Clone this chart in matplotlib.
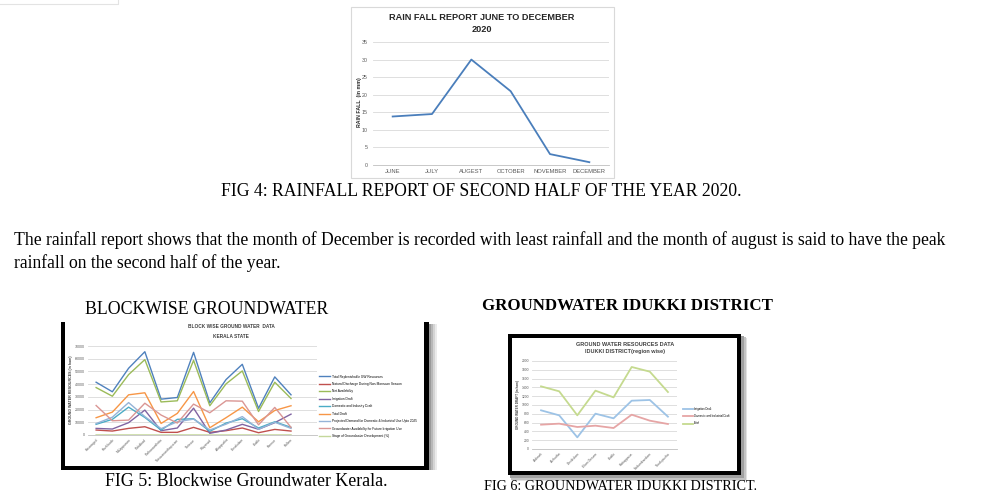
import numpy as np
import matplotlib
matplotlib.use('Agg')
import matplotlib.pyplot as plt
from matplotlib.patches import Rectangle
from matplotlib.lines import Line2D

W, H = 990, 501

# rainfall (fig 4)
months = ['JUNE', 'JULY', 'AUGEST', 'OCTOBER', 'NOVEMBER', 'DECEMBER']
rainfall = [13.8, 14.5, 30.0, 21.0, 3.1, 0.8]

# blockwise kerala (fig 5)
blocks = ['Kasaragod', 'Kozhikode', 'Malappuram', 'Palakkad', 'Pathanamthitta',
          'Thiruvananthapuram', 'Thrissur', 'Wayanad', 'Alappuzha', 'Ernakulam',
          'Idukki', 'Kannur', 'Kollam']
total_replenishable = [41500, 34000, 52500, 65500, 28200, 29500, 65000, 25300, 43600, 55600, 21000, 45700, 31600]
natural_discharge = [3900, 3100, 5200, 6500, 2100, 2100, 6000, 2100, 3400, 5500, 1800, 4400, 3100]
net_availability = [37300, 30500, 47500, 59300, 26000, 26900, 58700, 23000, 40200, 50400, 18500, 41500, 28700]
irrigation_draft = [5200, 4700, 9700, 19600, 3400, 5500, 21100, 1300, 3900, 8400, 4500, 9700, 16400]
domestic_draft = [8400, 12300, 21900, 13800, 3900, 12300, 12800, 2900, 9400, 12800, 5500, 10400, 6000]
total_draft = [13600, 18000, 31600, 33200, 9100, 17000, 34200, 5700, 13600, 21900, 10400, 19300, 23000]
projected_demand = [9000, 14000, 25500, 14500, 5000, 10400, 12500, 4000, 8500, 14500, 4500, 10000, 5200]
future_irrigation = [23200, 11200, 11700, 25000, 15700, 9400, 24300, 17500, 26900, 26600, 8000, 21700, 6000]
stage_development = [68, 55, 60, 56, 32, 58, 58, 23, 31, 40, 50, 42, 73]

kerala_series = [
    ('Total Replenishable GW Resources', total_replenishable, '#4F81BD'),
    ('Natural Discharge During Non-Monsoon Season', natural_discharge, '#C0504D'),
    ('Net Availability', net_availability, '#9BBB59'),
    ('Irrigation Draft', irrigation_draft, '#8064A2'),
    ('Domestic and Industry Draft', domestic_draft, '#4BACC6'),
    ('Total Draft', total_draft, '#F79646'),
    ('Projected Demand for Domestic & Industrial Use Upto 2025', projected_demand, '#95B3D7'),
    ('Groundwater Availability for Future Irrigation Use', future_irrigation, '#DA9694'),
    ('Stage of Groundwater Development (%)', stage_development, '#C4D79B'),
]

# idukki (fig 6)
idukki_blocks = ['Adimali', 'Azhutha', 'Devikulam', 'Elam Desam', 'Idukki',
                 'Kattappana', 'Nedumkandam', 'Thodupuzha']
idukki_irrigation = [879, 765, 265, 803, 697, 1098, 1114, 735]
idukki_domestic = [553, 576, 500, 530, 477, 780, 644, 568]
idukki_total = [1424, 1311, 765, 1326, 1174, 1864, 1758, 1295]

SERIF = 'Liberation Serif'
SANS = 'Liberation Sans'


def box(x0, y0, x1, y1):
    return [x0 / W, 1 - y1 / H, (x1 - x0) / W, (y1 - y0) / H]


def fx(x):
    return x / W


def fy(y):
    return 1 - y / H


def rect(fig, x0, y0, x1, y1, color, z=-2, fill=True, lw=0):
    r = Rectangle((fx(x0), fy(y1)), (x1 - x0) / W, (y1 - y0) / H,
                  transform=fig.transFigure, facecolor=color if fill else 'none',
                  edgecolor=color, linewidth=lw, zorder=z)
    fig.add_artist(r)


def excel_axes(ax, grid_col='#D9D9D9'):
    ax.set_facecolor('none')
    for s in ['top', 'right', 'left']:
        ax.spines[s].set_visible(False)
    ax.spines['bottom'].set_color('#BFBFBF')
    ax.spines['bottom'].set_linewidth(0.6)
    ax.yaxis.grid(True, color=grid_col, linewidth=0.6)
    ax.set_axisbelow(True)
    ax.tick_params(length=0, colors='#595959')


fig = plt.figure(figsize=(W / 100, H / 100), dpi=100)
fig.patch.set_facecolor('white')

# stray border at top left
fig.add_artist(Line2D([0, fx(118), fx(118)], [fy(4), fy(4), fy(0)], transform=fig.transFigure,
                      color='#E3E3E3', linewidth=0.8))

# ---------- FIG 4 rainfall ----------
rect(fig, 351, 7, 614, 178, '#D9D9D9', fill=False, lw=0.8)
ax1 = fig.add_axes(box(373, 42, 609, 165))
excel_axes(ax1)
x = np.arange(len(months))
ax1.plot(x, rainfall, color='#4A7EBB', linewidth=1.3)
ax1.set_xlim(-0.5, len(months) - 0.5)
ax1.set_ylim(0, 35)
ax1.set_yticks(np.arange(0, 36, 5))
ax1.set_xticks(x)
ax1.set_xticklabels(months, fontsize=4.2, family=SANS)
for t in ax1.get_yticklabels():
    t.set_fontsize(3.8)
    t.set_family(SANS)
ax1.tick_params(axis='x', pad=3)
ax1.tick_params(axis='y', pad=4)
fig.text(fx(360), fy(102), 'RAIN FALL  (in mm)', rotation=90, ha='center', va='center',
         fontsize=3.8, fontweight='bold', family=SANS, color='#262626')
fig.text(fx(482), fy(18), 'RAIN FALL REPORT JUNE TO DECEMBER', ha='center', va='center',
         fontsize=6.6, fontweight='bold', family=SANS, color='#262626')
fig.text(fx(482), fy(29), '2020', ha='center', va='center',
         fontsize=6.6, fontweight='bold', family=SANS, color='#262626')

# ---------- captions / paragraph ----------
fig.text(fx(481), fy(191), 'FIG 4: RAINFALL REPORT OF SECOND HALF OF THE YEAR 2020.',
         ha='center', va='center', fontsize=12.7, family=SERIF)
fig.text(fx(14), fy(240), 'The rainfall report shows that the month of December is recorded with least '
         'rainfall and the month of august is said to have the peak',
         ha='left', va='center', fontsize=12.7, family=SERIF)
fig.text(fx(14), fy(263), 'rainfall on the second half of the year.',
         ha='left', va='center', fontsize=12.7, family=SERIF)
fig.text(fx(207), fy(309), 'BLOCKWISE GROUNDWATER', ha='center', va='center',
         fontsize=12.8, family=SERIF)
fig.text(fx(627), fy(306), 'GROUNDWATER IDUKKI DISTRICT', ha='center', va='center',
         fontsize=12.2, fontweight='bold', family=SERIF)
fig.text(fx(246), fy(482), 'FIG 5: Blockwise Groundwater Kerala.', ha='center', va='center',
         fontsize=12.9, family=SERIF)
fig.text(fx(620), fy(486), 'FIG 6: GROUNDWATER IDUKKI DISTRICT.', ha='center', va='center',
         fontsize=10.2, family=SERIF)

# ---------- FIG 5 frame ----------
for i, g in enumerate(['#9A9A9A', '#B8B8B8', '#D4D4D4', '#EBEBEB']):
    rect(fig, 429 + i * 2, 324, 431 + i * 2, 470, g, z=-3)
rect(fig, 61, 322, 429, 470, 'black', z=-2)
rect(fig, 65, 322, 424, 466, 'white', z=-1)

ax2 = fig.add_axes(box(88, 346, 317, 435))
excel_axes(ax2)
xb = np.arange(len(blocks))
for name, vals, col in kerala_series:
    ax2.plot(xb, vals, color=col, linewidth=1.0, label=name)
ax2.set_xlim(-0.5, len(blocks) + 0.6)
ax2.set_ylim(0, 70000)
ax2.set_yticks(np.arange(0, 70001, 10000))
ax2.set_xticks(xb)
ax2.set_xticklabels(blocks, rotation=45, ha='right', rotation_mode='anchor', fontsize=2.4, family=SANS)
for t in ax2.get_yticklabels():
    t.set_fontsize(2.6)
    t.set_family(SANS)
ax2.tick_params(pad=2)
fig.text(fx(71), fy(390), 'GROUND WATER RESOURCES (in ham)', rotation=90, ha='center', va='center',
         fontsize=2.6, fontweight='bold', family=SANS, color='#404040')
fig.text(fx(231), fy(327), 'BLOCK WISE GROUND WATER  DATA', ha='center', va='center',
         fontsize=3.4, fontweight='bold', family=SANS, color='#404040')
fig.text(fx(231), fy(336), 'KERALA STATE', ha='center', va='center',
         fontsize=3.4, fontweight='bold', family=SANS, color='#404040')
ax2.legend(loc='upper left', bbox_to_anchor=(fx(317), fy(373)), bbox_transform=fig.transFigure,
           frameon=False, handlelength=3.6, handletextpad=0.6,
           labelspacing=1.05, borderpad=0, prop={'family': SANS, 'size': 2.35})

# ---------- FIG 6 frame ----------
for i, g in enumerate(['#A0A0A0', '#C4C4C4', '#E2E2E2']):
    rect(fig, 510 + i, 336 + i, 744 + i * 1.5, 478 + i * 1.5, g, z=-3 - i)
rect(fig, 508, 334, 741, 475, 'black', z=-2)
rect(fig, 512, 338, 737, 471, 'white', z=-1)

ax3 = fig.add_axes(box(532, 361, 677, 449))
excel_axes(ax3)
xi = np.arange(len(idukki_blocks))
ax3.plot(xi, idukki_irrigation, color='#9DC3E6', linewidth=1.3, label='Irrigation Draft')
ax3.plot(xi, idukki_domestic, color='#E6A5A5', linewidth=1.3, label='Domestic and Industrial Draft')
ax3.plot(xi, idukki_total, color='#C5DA8F', linewidth=1.3, label='Total')
ax3.set_xlim(-0.5, len(idukki_blocks) - 0.5)
ax3.set_ylim(0, 2000)
ax3.set_yticks(np.arange(0, 2001, 200))
ax3.set_xticks(xi)
ax3.set_xticklabels(idukki_blocks, rotation=45, ha='right', rotation_mode='anchor', fontsize=2.4, family=SANS)
for t in ax3.get_yticklabels():
    t.set_fontsize(2.4)
    t.set_family(SANS)
ax3.tick_params(pad=2)
fig.text(fx(518), fy(405), 'GROUND WATER DRAFT (in ham)', rotation=90, ha='center', va='center',
         fontsize=2.2, fontweight='bold', family=SANS, color='#404040')
fig.text(fx(625), fy(344), 'GROUND WATER RESOURCES DATA', ha='center', va='center',
         fontsize=4.0, fontweight='bold', family=SANS, color='#404040')
fig.text(fx(625), fy(352), 'IDUKKI DISTRICT(region wise)', ha='center', va='center',
         fontsize=4.0, fontweight='bold', family=SANS, color='#404040')
ax3.legend(loc='upper left', bbox_to_anchor=(fx(682), fy(406)), bbox_transform=fig.transFigure,
           frameon=False, handlelength=3.4, handletextpad=0.5,
           labelspacing=1.1, borderpad=0, prop={'family': SANS, 'size': 2.0})

fig.savefig('out.png', dpi=100)
